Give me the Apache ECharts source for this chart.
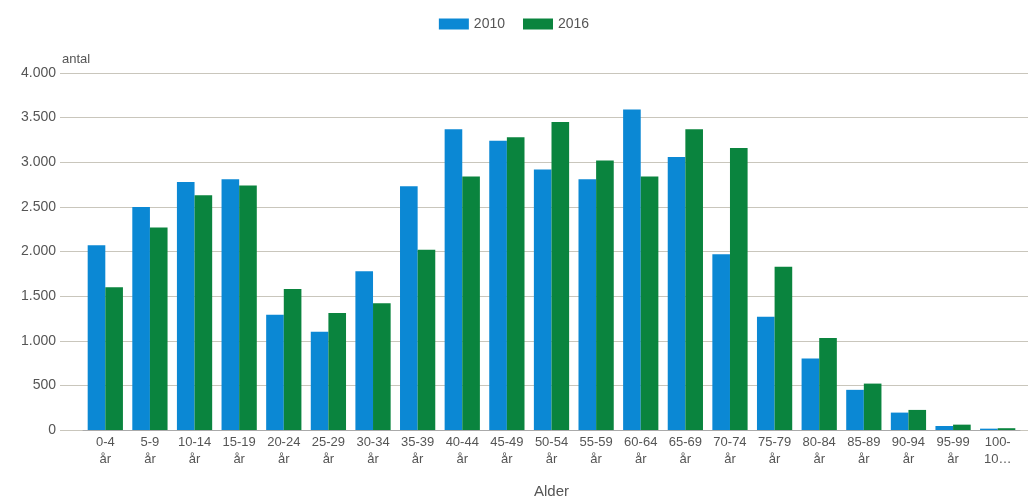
<!DOCTYPE html>
<html>
<head>
<meta charset="utf-8">
<script src="https://cdn.jsdelivr.net/npm/echarts@6/dist/echarts.min.js"></script>
<style>html,body{margin:0;padding:0;background:#fff}#c{width:1028px;height:501px}</style>
</head>
<body>
<div id="c"></div>
<script>
var categories = ["0-4 år","5-9 år","10-14 år","15-19 år","20-24 år","25-29 år","30-34 år","35-39 år","40-44 år","45-49 år","50-54 år","55-59 år","60-64 år","65-69 år","70-74 år","75-79 år","80-84 år","85-89 år","90-94 år","95-99 år","100-104 år"];
var tickLabels = ["0-4\når","5-9\når","10-14\når","15-19\når","20-24\når","25-29\når","30-34\når","35-39\når","40-44\når","45-49\når","50-54\når","55-59\når","60-64\når","65-69\når","70-74\når","75-79\når","80-84\når","85-89\når","90-94\når","95-99\når","100-\n10…"];
var values2010 = [2070,2500,2780,2810,1290,1100,1780,2730,3370,3240,2920,2810,3590,3060,1970,1270,800,450,195,45,15];
var values2016 = [1600,2270,2630,2740,1580,1310,1420,2020,2840,3280,3450,3020,2840,3370,3160,1830,1030,520,225,60,20];
var seriesNames = ["2010","2016"];

var chart = echarts.init(document.getElementById('c'));
var font = "Liberation Sans, Arial, sans-serif";
function fmt(v){ return String(v).replace(/\B(?=(\d{3})+(?!\d))/g, '.'); }
chart.setOption({
  animation: false,
  textStyle: {fontFamily: font},
  legend: {
    top: 12, left: 'center',
    icon: 'rect',
    itemWidth: 30, itemHeight: 11, itemGap: 18,
    textStyle: {fontSize: 14, color: '#555', fontFamily: font},
    data: seriesNames
  },
  grid: [
    {left: 60, right: 0, top: 73, bottom: 71, containLabel: false, outerBoundsMode: 'none'},
    {left: 83, right: 8, top: 73, bottom: 71, containLabel: false, outerBoundsMode: 'none'}
  ],
  xAxis: [
    {gridIndex: 0, type: 'category', data: categories, show: false},
    {gridIndex: 1, type: 'category', data: categories,
     axisLine: {lineStyle: {color: '#aaa'}}, axisTick: {show: false},
     axisLabel: {interval: 0, fontSize: 13, color: '#555', lineHeight: 17, margin: 4,
       formatter: function(v, i){ return tickLabels[i]; }},
     name: 'Alder', nameLocation: 'middle', nameGap: 54,
     nameTextStyle: {fontSize: 15, color: '#555', fontFamily: font}}
  ],
  yAxis: [
    {gridIndex: 0, type: 'value', min: 0, max: 4000, interval: 500,
     axisLine: {show: false}, axisTick: {show: false},
     splitLine: {lineStyle: {color: '#c9c6bc', width: 1}},
     axisLabel: {fontSize: 14, color: '#555', margin: 4, formatter: fmt},
     name: 'antal', nameLocation: 'end', nameGap: 7,
     nameTextStyle: {fontSize: 13, color: '#555', align: 'left', padding: [0,0,0,2], fontFamily: font}},
    {gridIndex: 1, type: 'value', min: 0, max: 4000, interval: 500, show: false, splitLine: {show: false}}
  ],
  series: [
    {name: seriesNames[0], type: 'bar', xAxisIndex: 1, yAxisIndex: 1, data: values2010,
     itemStyle: {color: '#0b88d4'}, barGap: '0%', barCategoryGap: '21%'},
    {name: seriesNames[1], type: 'bar', xAxisIndex: 1, yAxisIndex: 1, data: values2016,
     itemStyle: {color: '#0a843e'}, barGap: '0%', barCategoryGap: '21%'}
  ]
});
</script>
</body>
</html>
